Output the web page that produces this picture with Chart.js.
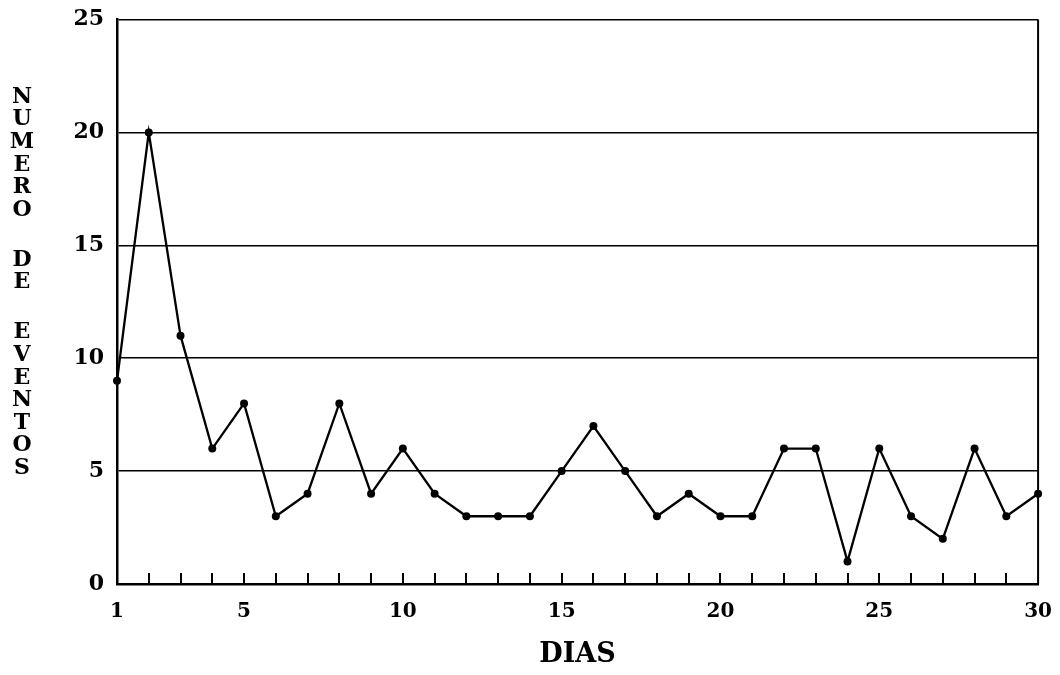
<!DOCTYPE html>
<html>
<head>
<meta charset="utf-8">
<script src="https://cdn.jsdelivr.net/npm/chart.js@4/dist/chart.umd.min.js"></script>
<style>
  html, body { margin: 0; padding: 0; background: #fff; }
  #wrap { width: 1060px; height: 675px; position: relative; }
</style>
</head>
<body>
<div id="wrap"><canvas id="chart"></canvas></div>
<script>
// dados
const dias = [1, 2, 3, 4, 5, 6, 7, 8, 9, 10, 11, 12, 13, 14, 15, 16, 17, 18, 19, 20, 21, 22, 23, 24, 25, 26, 27, 28, 29, 30];
const eventos = [9, 20, 11, 6, 8, 3, 4, 8, 4, 6, 4, 3, 3, 3, 5, 7, 5, 3, 4, 3, 3, 6, 6, 1, 6, 3, 2, 6, 3, 4];
const xTickLabels = [1, 5, 10, 15, 20, 25, 30];
const yTickLabels = [0, 5, 10, 15, 20, 25];
const yTitleWords = ["NUMERO", "DE", "EVENTOS"];
const xTitle = "DIAS";

const sFont = "'DejaVu Serif', 'Liberation Serif', serif";

// marcas de dia para dentro + moldura direita + título vertical
const framePlugin = {
    id: "frame",
    afterDraw(chart) {
        const ctx = chart.ctx;
        const area = chart.chartArea;
        const xs = chart.scales.x;
        ctx.save();
        ctx.strokeStyle = "#000";
        ctx.lineWidth = 2;
        dias.forEach(d => {
            if (d === dias[0] || d === dias[dias.length - 1]) return;
            const px = Math.round(xs.getPixelForValue(d));
            ctx.beginPath();
            ctx.moveTo(px, area.bottom);
            ctx.lineTo(px, area.bottom - 11);
            ctx.stroke();
        });
        // borda direita
        ctx.lineWidth = 2;
        ctx.beginPath();
        ctx.moveTo(area.right, area.top);
        ctx.lineTo(area.right, area.bottom);
        ctx.stroke();

        // título do eixo y, letra por letra
        ctx.fillStyle = "#000";
        ctx.font = "bold 22px " + sFont;
        ctx.textAlign = "center";
        ctx.textBaseline = "middle";
        let y = 97;
        yTitleWords.forEach(w => {
            for (const ch of w) {
                ctx.fillText(ch, 22, y);
                y += 22.6;
            }
            y += 50 - 22.6;
        });
        ctx.restore();
    }
};

new Chart(document.getElementById("chart"), {
    type: "line",
    data: {
        datasets: [{
            data: dias.map((d, i) => ({ x: d, y: eventos[i] })),
            borderColor: "#000",
            borderWidth: 2.3,
            backgroundColor: "#000",
            pointRadius: 4,
            pointBackgroundColor: "#000",
            pointBorderWidth: 0,
            tension: 0,
            clip: false
        }]
    },
    options: {
        responsive: true,
        maintainAspectRatio: false,
        animation: false,
        devicePixelRatio: 1,
        layout: { padding: { top: 19, right: 16, left: 0, bottom: 0 }, autoPadding: false },
        plugins: {
            legend: { display: false },
            tooltip: { enabled: false }
        },
        scales: {
            x: {
                type: "linear",
                min: 1,
                max: 30,
                afterBuildTicks: s => { s.ticks = xTickLabels.map(v => ({ value: v })); },
                afterFit: s => { s.height = 91; },
                grid: { display: false },
                border: { display: true, color: "#000", width: 2.5 },
                ticks: {
                    color: "#000",
                    font: { family: sFont, size: 20, weight: "bold" },
                    padding: 8,
                    maxRotation: 0,
                    autoSkip: false
                },
                title: {
                    display: true,
                    text: xTitle,
                    color: "#000",
                    font: { family: sFont, size: 27, weight: "bold" },
                    padding: { top: 30 }
                }
            },
            y: {
                min: 0,
                max: 25,
                afterBuildTicks: s => { s.ticks = yTickLabels.map(v => ({ value: v })); },
                afterFit: s => { s.width = 117; },
                grid: { color: "#000", lineWidth: 1.6, drawTicks: false },
                border: { display: true, color: "#000", width: 2.5 },
                ticks: {
                    color: "#000",
                    font: { family: sFont, size: 22, weight: "bold", lineHeight: 0.6 },
                    padding: 13
                }
            }
        }
    },
    plugins: [framePlugin]
});
</script>
</body>
</html>
